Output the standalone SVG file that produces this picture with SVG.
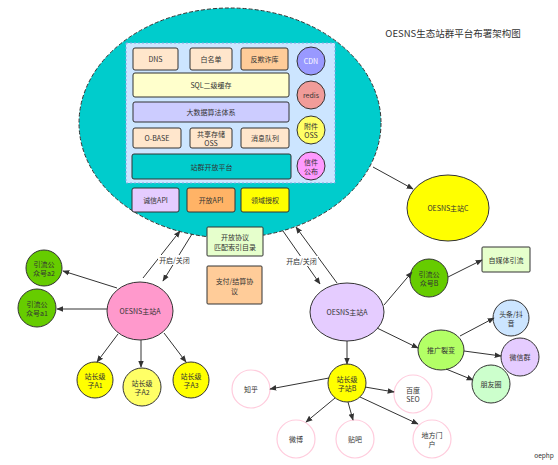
<svg xmlns="http://www.w3.org/2000/svg" width="558" height="465" viewBox="0 0 558 465">
<defs>
<marker id="ah" viewBox="0 0 10 10" refX="9" refY="5" markerWidth="7" markerHeight="7" markerUnits="userSpaceOnUse" orient="auto">
<path d="M0,1 L10,5 L0,9 z" fill="#333"/>
</marker>
</defs>
<style>
text{font-family:"Noto Sans CJK SC","Noto Sans",sans-serif;font-size:7px;fill:#333;text-anchor:middle;dominant-baseline:central}
.b{stroke:#333;stroke-width:1}
.pk{fill:#fff;stroke:#ffccdd;stroke-width:1.2}
.c line{stroke:#333;stroke-width:1;marker-end:url(#ah)}
.c line.n{marker-end:none}
</style>
<rect width="558" height="465" fill="#fff"/>
<text x="453" y="33" style="font-size:9.5px">OESNS生态站群平台布署架构图</text>

<g id="platform">
<ellipse cx="230" cy="123" rx="151" ry="115" fill="#00cccc" stroke="#333" stroke-width="1" stroke-dasharray="4 2"/>
<rect x="126" y="43" width="209" height="140" fill="#cce5ff" stroke="#7ea6e0" stroke-width="1" stroke-dasharray="2 2"/>
</g>
<g id="dns"><rect class="b" x="133" y="48" width="45" height="22" rx="2" fill="#ffe6cc"/><text x="155.5" y="59">DNS</text></g>
<g id="whitelist"><rect class="b" x="190" y="48" width="42" height="22" rx="2" fill="#ffe6cc"/><text x="211" y="59">白名单</text></g>
<g id="antifraud"><rect class="b" x="241" y="48" width="47" height="22" rx="2" fill="#ffcc99"/><text x="264.5" y="59">反欺诈库</text></g>
<g id="sqlcache"><rect class="b" x="133" y="73" width="156" height="24" rx="2" fill="#ffffcc"/><text x="211" y="85">SQL二级缓存</text></g>
<g id="bigdata"><rect class="b" x="133" y="102" width="156" height="20" rx="2" fill="#ccccff"/><text x="211" y="112">大数据算法体系</text></g>
<g id="obase"><rect class="b" x="133" y="128" width="48" height="20" rx="2" fill="#ffe6cc"/><text x="157" y="138">O-BASE</text></g>
<g id="oss"><rect class="b" x="190" y="128" width="42" height="20" rx="2" fill="#ffe6cc"/><text x="211" y="134">共享存储</text><text x="211" y="143">OSS</text></g>
<g id="mq"><rect class="b" x="241" y="128" width="48" height="20" rx="2" fill="#ffe6cc"/><text x="265" y="138">消息队列</text></g>
<g id="openplat"><rect class="b" x="132" y="154" width="159" height="25" rx="2" fill="#00cccc"/><text x="211.5" y="166.5">站群开放平台</text></g>
<g id="cdn"><circle class="b" cx="311" cy="61" r="14" fill="#9999ff"/><text x="311" y="61" style="fill:#fff">CDN</text></g>
<g id="redis"><circle class="b" cx="311" cy="95" r="14" fill="#f19c99"/><text x="311" y="95">redis</text></g>
<g id="attoss"><circle class="b" cx="311" cy="130" r="14" fill="#ffff66"/><text x="311" y="125.5">附件</text><text x="311" y="134.5">OSS</text></g>
<g id="letter"><circle class="b" cx="311" cy="166" r="14" fill="#ff99ff"/><text x="311" y="161.5">信件</text><text x="311" y="170.5">公布</text></g>
<g id="api1"><rect class="b" x="132" y="188" width="47" height="24" rx="2" fill="#e5ccff"/><text x="155.5" y="200">诚信API</text></g>
<g id="api2"><rect class="b" x="187" y="188" width="48" height="24" rx="2" fill="#ffb366"/><text x="211" y="200">开放API</text></g>
<g id="auth"><rect class="b" x="241" y="188" width="48" height="24" rx="2" fill="#ffff00"/><text x="265" y="200">领域授权</text></g>

<g id="protocol"><rect class="b" x="207" y="227" width="56" height="29" rx="1" fill="#e6ffcc"/><text x="235" y="236.5">开放协议</text><text x="235" y="246.5">匹配索引目录</text></g>
<g id="payment"><rect class="b" x="207" y="266" width="55" height="38" rx="1" fill="#ffcc99"/><text x="234.5" y="280.5">支付/结算协</text><text x="234.5" y="290.5">议</text></g>

<g id="siteC"><ellipse class="b" cx="448" cy="208" rx="41" ry="33" fill="#ffff00"/><text x="448" y="208">OESNS主站C</text></g>

<g id="siteA"><ellipse class="b" cx="140" cy="311" rx="33" ry="29" fill="#ff99cc"/><text x="140" y="311">OESNS主站A</text></g>
<g id="a2"><circle class="b" cx="44" cy="268" r="18" fill="#66cc00"/><text x="44" y="263.5">引流公</text><text x="44" y="272.5">众号a2</text></g>
<g id="a1"><circle class="b" cx="37" cy="308" r="19" fill="#66cc00"/><text x="37" y="303.5">引流公</text><text x="37" y="312.5">众号a1</text></g>
<g id="subA1"><circle class="b" cx="95" cy="380" r="18" fill="#ffff00"/><text x="95" y="375.5">站长级</text><text x="95" y="384.5">子A1</text></g>
<g id="subA2"><circle class="b" cx="142" cy="387" r="19" fill="#ffff66"/><text x="142" y="382.5">站长级</text><text x="142" y="391.5">子A2</text></g>
<g id="subA3"><circle class="b" cx="191" cy="380" r="18" fill="#ffff00"/><text x="191" y="375.5">站长级</text><text x="191" y="384.5">子A3</text></g>

<g id="siteA2"><ellipse class="b" cx="347" cy="312" rx="37" ry="29" fill="#e5ccff"/><text x="347" y="312">OESNS主站A</text></g>
<g id="gzhB"><circle class="b" cx="429" cy="278" r="19" fill="#66cc00"/><text x="429" y="273.5">引流公</text><text x="429" y="282.5">众号B</text></g>
<g id="selfmedia"><rect class="b" x="482" y="247" width="48" height="25" rx="1" fill="#e6ffcc"/><text x="506" y="259.5">自媒体引流</text></g>
<g id="fission"><ellipse class="b" cx="441" cy="350" rx="23" ry="20" fill="#b3ff66"/><text x="441" y="350">推广裂变</text></g>
<g id="toutiao"><circle class="b" cx="511" cy="318" r="18" fill="#cce5ff"/><text x="511" y="313.5">头条/抖</text><text x="511" y="322.5">音</text></g>
<g id="wechat"><circle class="b" cx="520" cy="357" r="19" fill="#e5ccff"/><text x="520" y="357">微信群</text></g>
<g id="moments"><circle class="b" cx="491" cy="384" r="19" fill="#ccffcc"/><text x="491" y="384">朋友圈</text></g>
<g id="subB"><circle class="b" cx="347" cy="383" r="19" fill="#ffff00"/><text x="347" y="378.5">站长级</text><text x="347" y="387.5">子站B</text></g>
<g id="zhihu"><circle class="pk" cx="251" cy="389" r="19"/><text x="251" y="389">知乎</text></g>
<g id="baidu"><circle class="pk" cx="413" cy="394" r="19"/><text x="413" y="389.5">百度</text><text x="413" y="398.5">SEO</text></g>
<g id="weibo"><circle class="pk" cx="296" cy="439" r="19"/><text x="296" y="439">微博</text></g>
<g id="tieba"><circle class="pk" cx="355" cy="439" r="19"/><text x="355" y="439">贴吧</text></g>
<g id="portal"><circle class="pk" cx="432" cy="439" r="19"/><text x="432" y="434.5">地方门</text><text x="432" y="443.5">户</text></g>

<g id="connectors" class="c">
<line x1="373" y1="167" x2="413" y2="189"/>
<line x1="143" y1="278" x2="180" y2="231"/>
<line x1="192" y1="234" x2="163" y2="281"/>
<line x1="283" y1="231" x2="320" y2="284"/>
<line x1="337" y1="283" x2="296" y2="227"/>
<line x1="117" y1="288" x2="63" y2="271"/>
<line x1="107" y1="309" x2="57" y2="309"/>
<line x1="118" y1="334" x2="97" y2="362"/>
<line x1="141" y1="340" x2="141" y2="367"/>
<line x1="164" y1="333" x2="186" y2="362"/>
<line x1="384" y1="305" x2="412" y2="272"/>
<line x1="448" y1="277" x2="482" y2="260"/>
<line x1="377" y1="328" x2="418" y2="348"/>
<line x1="460" y1="336" x2="494" y2="318"/>
<line x1="464" y1="351" x2="501" y2="356"/>
<line x1="446" y1="369" x2="473" y2="380"/>
<line x1="347" y1="341" x2="347" y2="364"/>
<line x1="329" y1="378" x2="270" y2="389"/>
<line x1="365" y1="387" x2="394" y2="392"/>
<line x1="335" y1="398" x2="306" y2="422"/>
<line x1="348" y1="402" x2="353" y2="420"/>
<line x1="360" y1="397" x2="418" y2="424"/>
<rect x="158" y="255" width="33" height="10" fill="#fff"/>
<text x="174.5" y="260">开启/关闭</text>
<rect x="285" y="256" width="33" height="10" fill="#fff"/>
<text x="301.5" y="261">开启/关闭</text>
</g>
<text x="544" y="455" style="font-size:6.5px">oephp</text>
</svg>
